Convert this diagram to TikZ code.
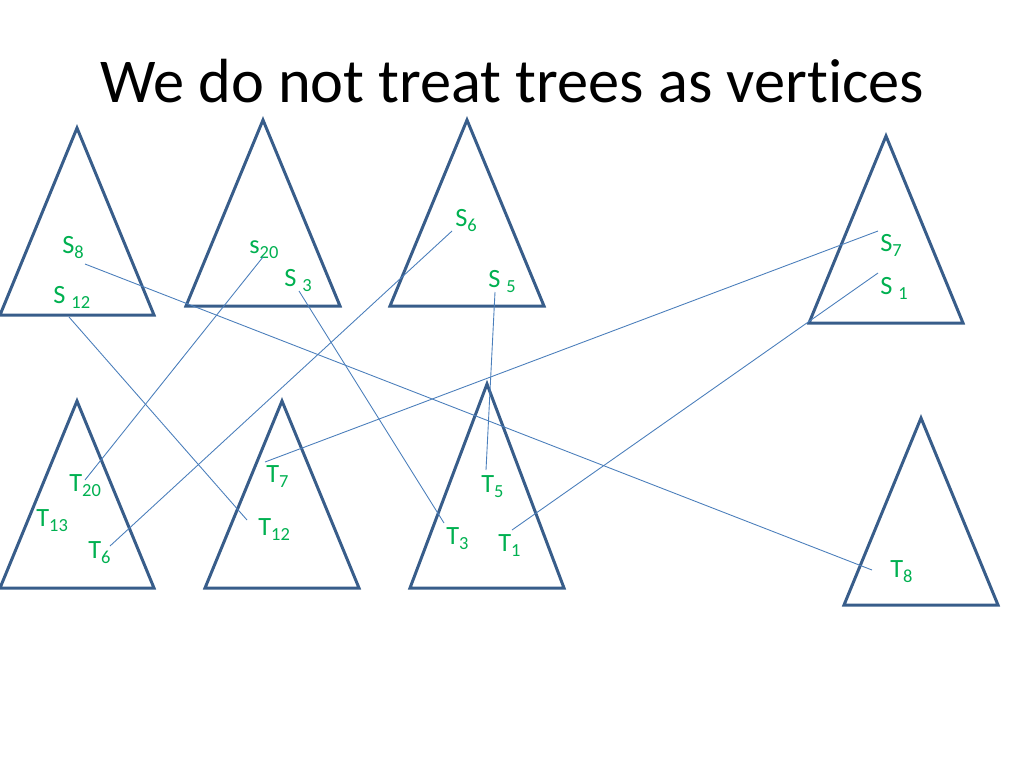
\documentclass[tikz,border=0pt]{standalone}
\usepackage{fontspec}
\setmainfont{Carlito}[Ligatures=NoCommon]
\definecolor{treeblue}{RGB}{56,93,138}
\definecolor{linkblue}{RGB}{74,126,187}
\definecolor{lblgreen}{RGB}{0,176,80}
\newcommand\idx[1]{\raisebox{-3.2pt}{\fontsize{10.5}{12}\selectfont #1}}
\tikzset{
  tree/.style={draw=treeblue, line width=1.7pt, line join=miter},
  link/.style={draw=linkblue, line width=0.5pt},
  lbl/.style={text=lblgreen, anchor=base west, inner sep=0pt, font=\fontsize{15}{18}\selectfont},
}
\begin{document}
\begin{tikzpicture}[x=0.02cm, y=-0.02cm]
  \useasboundingbox (0,0) rectangle (1024,768);
  \node[anchor=base, font=\fontsize{35.5}{42}\selectfont] (title) at (512,102) {We do not treat trees as vertices};

  % trees: apex x / apex y / base y
  \foreach \ax/\ay/\by in {77/128/315, 263/120/306, 467/120/306, 886/136/323,
                           77/401/588, 282/401/588, 487/384/588, 921/418/605}
    \draw[tree] (\ax,\ay) -- (\ax+77,\by) -- (\ax-77,\by) -- cycle;

  % labels in the upper trees
  \node[lbl] (S8)  at (62,253)  {S\idx{8}};
  \node[lbl] (S12) at (53,303)  {S \idx{12}};
  \node[lbl] (S20) at (249,253) {s\idx{20}};
  \node[lbl] (S3)  at (284,286) {S \idx{3}};
  \node[lbl] (S6)  at (455,226) {S\idx{6}};
  \node[lbl] (S5)  at (488,287) {S \idx{5}};
  \node[lbl] (S7)  at (880,251) {S\idx{7}};
  \node[lbl] (S1)  at (880,294) {S \idx{1}};

  % labels in the lower trees
  \node[lbl] (T20) at (69,491)  {T\idx{20}};
  \node[lbl] (T13) at (36,526)  {T\idx{13}};
  \node[lbl] (T6)  at (88,558)  {T\idx{6}};
  \node[lbl] (T7)  at (266,482) {T\idx{7}};
  \node[lbl] (T12) at (258,535) {T\idx{12}};
  \node[lbl] (T5)  at (481,492) {T\idx{5}};
  \node[lbl] (T3)  at (446,544) {T\idx{3}};
  \node[lbl] (T1)  at (498,551) {T\idx{1}};
  \node[lbl] (T8)  at (890,577) {T\idx{8}};

  % line ends
  \coordinate (s8)  at (85,264);   \coordinate (t8)  at (872,570);
  \coordinate (s12) at (69,317);   \coordinate (t12) at (247,520);
  \coordinate (s20) at (263,257);  \coordinate (t20) at (85,480);
  \coordinate (s3)  at (299,291);  \coordinate (t3)  at (444,523);
  \coordinate (s6)  at (452,231);  \coordinate (t6)  at (110,546);
  \coordinate (s5)  at (495,292);  \coordinate (t5)  at (486,470);
  \coordinate (s7)  at (878,231);  \coordinate (t7)  at (265,462);
  \coordinate (s1)  at (878,273);  \coordinate (t1)  at (512,530);

  \foreach \n in {8,12,20,3,6,5,7,1}
    \draw[link] (s\n) -- (t\n);
\end{tikzpicture}
\end{document}
